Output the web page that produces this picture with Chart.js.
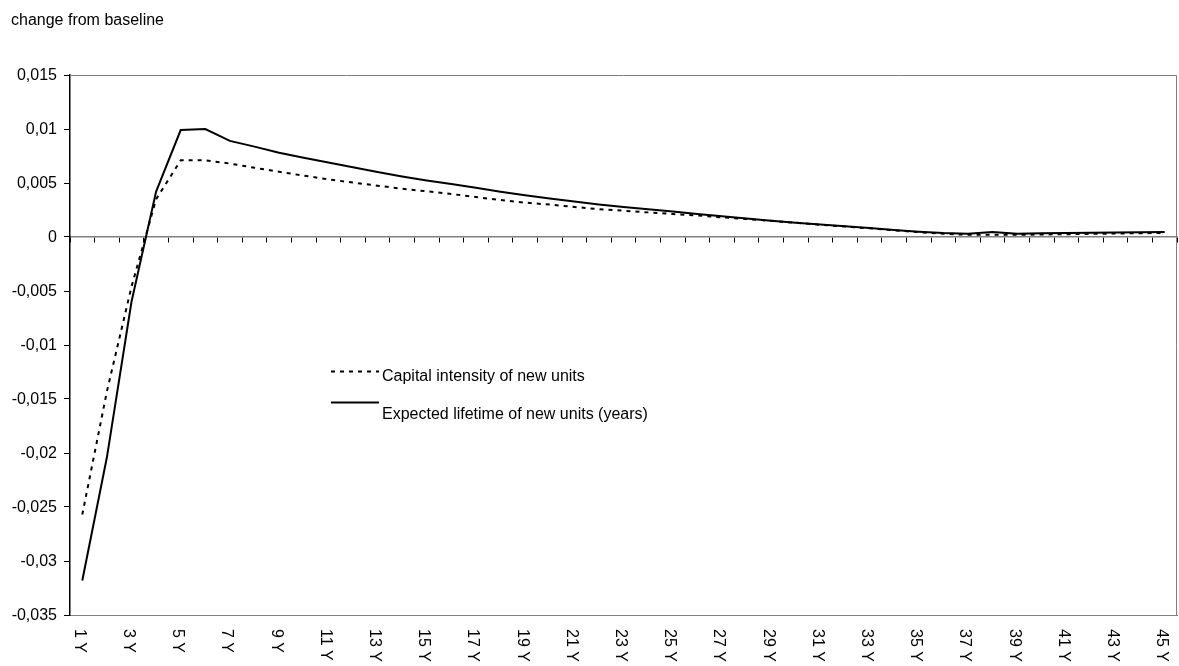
<!DOCTYPE html>
<html>
<head>
<meta charset="utf-8">
<script src="https://cdn.jsdelivr.net/npm/chart.js@4/dist/chart.umd.min.js"></script>
<style>
  html, body { margin: 0; padding: 0; background: #fff; }
  #wrap { width: 1179px; height: 666px; }
</style>
</head>
<body>
<div id="wrap"><canvas id="c" width="1179" height="666"></canvas></div>
<script>
const categories = ["1 Y","2 Y","3 Y","4 Y","5 Y","6 Y","7 Y","8 Y","9 Y","10 Y",
  "11 Y","12 Y","13 Y","14 Y","15 Y","16 Y","17 Y","18 Y","19 Y","20 Y",
  "21 Y","22 Y","23 Y","24 Y","25 Y","26 Y","27 Y","28 Y","29 Y","30 Y",
  "31 Y","32 Y","33 Y","34 Y","35 Y","36 Y","37 Y","38 Y","39 Y","40 Y",
  "41 Y","42 Y","43 Y","44 Y","45 Y"];

const capitalIntensity = [-0.0257,-0.0143,-0.0046,0.0035,0.0071,0.0071,0.0068,0.00641,0.00604,0.00568,
  0.00534,0.00504,0.00475,0.00447,0.00423,0.00398,0.00370,0.00342,0.00318,0.00300,
  0.00278,0.00258,0.00243,0.00228,0.00213,0.00200,0.00182,0.00166,0.00150,0.00132,
  0.00113,0.00097,0.00080,0.00062,0.00045,0.00030,0.00020,0.00020,0.00020,0.00023,
  0.00026,0.00029,0.00032,0.00035,0.00037];

const expectedLifetime = [-0.0318,-0.0204,-0.0060,0.0042,0.0099,0.0100,0.0089,0.00837,0.0078,0.00733,
  0.0069,0.00645,0.00602,0.0056,0.00523,0.0049,0.00455,0.00418,0.00386,0.00356,
  0.00328,0.00302,0.00278,0.00256,0.00235,0.00213,0.00192,0.00171,0.00151,0.00133,
  0.00115,0.00100,0.00083,0.00065,0.00049,0.00037,0.00031,0.00046,0.00031,0.00034,
  0.00036,0.00039,0.00042,0.00045,0.00046];

const seriesNames = ["Capital intensity of new units", "Expected lifetime of new units (years)"];
const yTicks = [0.015, 0.01, 0.005, 0, -0.005, -0.01, -0.015, -0.02, -0.025, -0.03, -0.035];
const yAxisTitle = "change from baseline";

const FONT = '"Liberation Sans", Arial, sans-serif';
Chart.defaults.font.family = FONT;
Chart.defaults.font.size = 16;
Chart.defaults.color = '#000';

function fmt(v) {
  return String(Number(v.toFixed(4))).replace('.', ',');
}

const decor = {
  id: 'decor',
  afterDraw(chart) {
    const ctx = chart.ctx;
    const a = chart.chartArea;
    ctx.save();
    // frame (top and right)
    ctx.strokeStyle = '#808080';
    ctx.lineWidth = 1;
    ctx.beginPath();
    ctx.moveTo(a.left, a.top + 0.5);
    ctx.lineTo(a.right - 0.5, a.top + 0.5);
    ctx.lineTo(a.right - 0.5, a.bottom);
    ctx.stroke();

    // title
    ctx.fillStyle = '#000';
    ctx.font = '16px ' + FONT;
    ctx.textAlign = 'left';
    ctx.textBaseline = 'alphabetic';
    ctx.fillText(yAxisTitle, 11, 25);

    // x labels, rotated clockwise
    const xs = chart.scales.x;
    ctx.font = '16px ' + FONT;
    ctx.textAlign = 'left';
    ctx.textBaseline = 'middle';
    categories.forEach((lab, i) => {
      if (i % 2 !== 0) return;
      const x = xs.getPixelForValue(i) - 3;
      ctx.save();
      ctx.translate(x, a.bottom + 14);
      ctx.rotate(Math.PI / 2);
      ctx.fillText(lab, 0, 0);
      ctx.restore();
    });

    // legend
    const ds = chart.data.datasets;
    const rows = [
      {lineY: 371.5, textY: 380.5},
      {lineY: 402.5, textY: 418.5}
    ];
    ds.forEach((d, i) => {
      ctx.save();
      ctx.strokeStyle = d.borderColor;
      ctx.lineWidth = d.borderWidth;
      ctx.setLineDash(d.borderDash || []);
      ctx.beginPath();
      ctx.moveTo(331, rows[i].lineY);
      ctx.lineTo(379, rows[i].lineY);
      ctx.stroke();
      ctx.restore();
      ctx.fillStyle = '#000';
      ctx.font = '16px ' + FONT;
      ctx.textAlign = 'left';
      ctx.textBaseline = 'alphabetic';
      ctx.fillText(d.label, 382, rows[i].textY);
    });
    ctx.restore();
  }
};

new Chart(document.getElementById('c'), {
  type: 'line',
  data: {
    labels: categories,
    datasets: [
      {
        label: seriesNames[0],
        data: capitalIntensity,
        borderColor: '#000',
        borderWidth: 2,
        borderDash: [4, 5],
        pointRadius: 0,
        tension: 0,
        fill: false
      },
      {
        label: seriesNames[1],
        data: expectedLifetime,
        borderColor: '#000',
        borderWidth: 2,
        pointRadius: 0,
        tension: 0,
        fill: false
      }
    ]
  },
  options: {
    responsive: false,
    devicePixelRatio: 1,
    animation: false,
    layout: { padding: { top: 75, right: 2, bottom: 0, left: 0 } },
    plugins: {
      legend: { display: false },
      tooltip: { enabled: false },
      title: { display: false }
    },
    scales: {
      x: {
        type: 'category',
        position: 'bottom',
        offset: true,
        grid: { display: false },
        border: { display: true, color: '#808080', width: 1 },
        ticks: { display: false },
        afterFit(s) { s.height = 51; }
      },
      x0: {
        type: 'category',
        axis: 'x',
        position: { y: 0 },
        offset: true,
        grid: { offset: true, drawOnChartArea: false, drawTicks: true, tickLength: 5, color: '#000', lineWidth: 1 },
        border: { display: true, color: '#808080', width: 1.5 },
        ticks: { display: false }
      },
      y: {
        type: 'linear',
        min: -0.035,
        max: 0.015,
        afterBuildTicks(s) { s.ticks = yTicks.map(v => ({ value: v })); },
        ticks: { callback: v => fmt(v), padding: 7, labelOffset: 1, color: '#000', font: { size: 16 } },
        grid: { drawOnChartArea: false, drawTicks: true, tickLength: 6, color: '#000' },
        border: { display: true, color: '#000', width: 1.5 },
        afterFit(s) { s.width = 70; }
      }
    }
  },
  plugins: [decor]
});
</script>
</body>
</html>
